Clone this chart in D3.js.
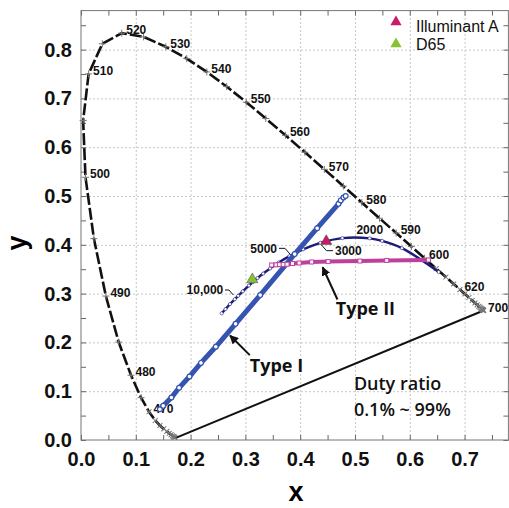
<!DOCTYPE html>
<html>
<head>
<meta charset="utf-8">
<script src="https://cdn.jsdelivr.net/npm/d3@7"></script>
<style>
  body { margin: 0; background: #fff; }
  svg { display: block; }
  .axis .tick text { font-family: "Liberation Sans", Arial, sans-serif; font-weight: bold; font-size: 20px; fill: #111; }
  .axis path.domain { display: none; }
  .axis .tick line { stroke: #666; }
  .grid .tick line { stroke: #c8c8c8; stroke-dasharray: 2,2; }
  .grid path.domain { display: none; }
  .grid .tick text { display: none; }
</style>
</head>
<body>
<div id="chart"></div>
<script>
// CIE 1931 spectral locus (5 nm steps)
const locusNm = [380,385,390,395,400,405,410,415,420,425,430,435,440,445,450,455,460,465,470,475,
  480,485,490,495,500,505,510,515,520,525,530,535,540,545,550,555,560,565,570,575,
  580,585,590,595,600,605,610,615,620,625,630,635,640,645,650,655,660,665,670,675,
  680,685,690,695,700];
const locusX = [0.1741,0.1740,0.1738,0.1736,0.1733,0.1730,0.1726,0.1721,0.1714,0.1703,0.1689,0.1669,0.1644,0.1611,0.1566,0.1510,0.1440,0.1355,0.1241,0.1096,
  0.0913,0.0687,0.0454,0.0235,0.0082,0.0039,0.0139,0.0389,0.0743,0.1142,0.1547,0.1929,0.2296,0.2658,0.3016,0.3373,0.3731,0.4087,0.4441,0.4788,
  0.5125,0.5448,0.5752,0.6029,0.6270,0.6482,0.6658,0.6801,0.6915,0.7006,0.7079,0.7140,0.7190,0.7230,0.7260,0.7283,0.7300,0.7311,0.7320,0.7327,
  0.7334,0.7340,0.7344,0.7346,0.7347];
const locusY = [0.0050,0.0050,0.0049,0.0049,0.0048,0.0048,0.0048,0.0048,0.0051,0.0058,0.0069,0.0086,0.0109,0.0138,0.0177,0.0227,0.0297,0.0399,0.0578,0.0868,
  0.1327,0.2007,0.2950,0.4127,0.5384,0.6548,0.7502,0.8120,0.8338,0.8262,0.8059,0.7816,0.7543,0.7243,0.6923,0.6589,0.6245,0.5896,0.5547,0.5202,
  0.4866,0.4544,0.4242,0.3965,0.3725,0.3514,0.3340,0.3197,0.3083,0.2993,0.2920,0.2859,0.2809,0.2770,0.2740,0.2717,0.2700,0.2689,0.2680,0.2673,
  0.2666,0.2660,0.2656,0.2654,0.2653];
const locusLabels = [470,480,490,500,510,520,530,540,550,560,570,580,590,600,620,700];

// Planckian locus
const planckK = [1000,1500,1800,2000,2500,3000,3500,4000,4500,5000,5500,6000,6500,7000,8000,9000,10000,12000,15000,20000];
const planckX = [0.6528,0.5857,0.5496,0.5267,0.4770,0.4369,0.4053,0.3805,0.3608,0.3451,0.3325,0.3221,0.3135,0.3064,0.2952,0.2869,0.2807,0.2719,0.2637,0.2567];
const planckY = [0.3444,0.3931,0.4081,0.4133,0.4137,0.4041,0.3907,0.3768,0.3636,0.3516,0.3411,0.3318,0.3237,0.3166,0.3048,0.2956,0.2884,0.2785,0.2682,0.2596];

// measured chromaticity, duty ratio 0.1% ~ 99%
const type1X = [0.144,0.150,0.165,0.179,0.198,0.219,0.246,0.282,0.327,0.390,0.431,0.470,0.474,0.479,0.483];
const type1Y = [0.063,0.070,0.087,0.107,0.130,0.158,0.191,0.238,0.297,0.381,0.434,0.484,0.491,0.497,0.500];
const type2X = [0.348,0.356,0.362,0.369,0.376,0.386,0.398,0.421,0.451,0.509,0.558,0.634];
const type2Y = [0.3586,0.3590,0.3594,0.3598,0.3602,0.3616,0.3628,0.3648,0.3656,0.3668,0.3680,0.3689];

const illumNames = ["Illuminant A", "D65"];
const illumX = [0.4476, 0.3127];
const illumY = [0.4074, 0.3290];
const illumColors = ["#cc1a66", "#86c232"];

const xTicks = [0, 0.1, 0.2, 0.3, 0.4, 0.5, 0.6, 0.7];
const yTicks = [0, 0.1, 0.2, 0.3, 0.4, 0.5, 0.6, 0.7, 0.8];

const width = 509, height = 508;
const margin = { top: 10.6, right: 0.6, bottom: 68, left: 81 };
const W = width - margin.left - margin.right;
const H = height - margin.top - margin.bottom;

const svg = d3.select("#chart").append("svg")
    .attr("width", width)
    .attr("height", height);

svg.append("defs").append("marker")
    .attr("id", "arrow")
    .attr("viewBox", "0 0 10 10")
    .attr("refX", 9).attr("refY", 5)
    .attr("markerWidth", 9).attr("markerHeight", 9)
    .attr("markerUnits", "userSpaceOnUse")
    .attr("orient", "auto")
    .append("path")
    .attr("d", "M0,0L10,5L0,10z")
    .attr("fill", "#111");

const g = svg.append("g").attr("transform", `translate(${margin.left},${margin.top})`);

const x = d3.scaleLinear().domain([0, 0.78]).range([0, W]);
const y = d3.scaleLinear().domain([0, 0.88]).range([H, 0]);

// grid
g.append("g").attr("class", "grid").attr("transform", `translate(0,${H})`)
    .call(d3.axisBottom(x).tickValues(xTicks.slice(1)).tickSize(-H));
g.append("g").attr("class", "grid")
    .call(d3.axisLeft(y).tickValues(yTicks.slice(1)).tickSize(-W));

// axes, ticks inward on all four sides
const fmt = d3.format(".1f");
const minorX = d3.range(0.05, 0.78, 0.1);
const minorY = d3.range(0.05, 0.88, 0.1);
g.append("g").attr("class", "axis").attr("transform", `translate(0,${H})`)
    .call(d3.axisBottom(x).tickValues(xTicks).tickSize(-5).tickPadding(12).tickFormat(fmt));
g.append("g").attr("class", "axis").attr("transform", `translate(0,${H})`)
    .call(d3.axisBottom(x).tickValues(minorX).tickSize(-5).tickFormat(""));
g.append("g").attr("class", "axis")
    .call(d3.axisLeft(y).tickValues(yTicks).tickSize(-5).tickPadding(9).tickFormat(fmt));
g.append("g").attr("class", "axis")
    .call(d3.axisLeft(y).tickValues(minorY).tickSize(-5).tickFormat(""));
g.append("g").attr("class", "axis")
    .call(d3.axisTop(x).tickValues(xTicks.concat(minorX)).tickSize(-5).tickFormat(""));
g.append("g").attr("class", "axis").attr("transform", `translate(${W},0)`)
    .call(d3.axisRight(y).tickValues(yTicks.concat(minorY)).tickSize(-5).tickFormat(""));

g.append("rect")
    .attr("width", W).attr("height", H)
    .attr("fill", "none").attr("stroke", "#777").attr("stroke-width", 1);

// axis titles
svg.append("text")
    .attr("x", 296).attr("y", 501)
    .attr("text-anchor", "middle")
    .style("font", "bold 27px 'Liberation Sans', Arial, sans-serif")
    .text("x");
svg.append("text")
    .attr("transform", "translate(26,243) rotate(-90)")
    .attr("text-anchor", "middle")
    .style("font", "bold 27px 'Liberation Sans', Arial, sans-serif")
    .text("y");

// spectral locus
const locus = locusNm.map((nm, i) => ({ nm, x: locusX[i], y: locusY[i] }));
const line = d3.line().x(d => x(d.x)).y(d => y(d.y));

g.append("path")
    .datum([locus[0], locus[locus.length - 1]])
    .attr("d", line)
    .attr("fill", "none").attr("stroke", "#111").attr("stroke-width", 2);

g.append("path")
    .datum(locus)
    .attr("d", line)
    .attr("fill", "none").attr("stroke", "#111").attr("stroke-width", 2.6)
    .attr("stroke-dasharray", "12,3");

g.selectAll(".lmark")
    .data(locus.filter(d => d.nm >= 420))
    .join("path")
    .attr("class", "lmark")
    .attr("transform", d => `translate(${x(d.x)},${y(d.y)}) rotate(${(d.nm < 475 || d.nm > 600) ? 45 : 0})`)
    .attr("d", "M-3.5,0H3.5M0,-3.5V3.5")
    .attr("stroke", "#777").attr("stroke-width", 1);

g.selectAll(".llabel")
    .data(locus.filter(d => locusLabels.includes(d.nm)))
    .join("text")
    .attr("class", "llabel")
    .attr("x", d => x(d.x) + 4.5)
    .attr("y", d => y(d.y) - 3)
    .attr("dy", "0.35em")
    .style("font", "bold 12px 'Liberation Sans', Arial, sans-serif")
    .attr("fill", "#111")
    .text(d => d.nm);

// Planckian locus
const planck = planckK.map((k, i) => ({ k, x: planckX[i], y: planckY[i] }));
g.append("path")
    .datum(planck)
    .attr("d", d3.line().x(d => x(d.x)).y(d => y(d.y)).curve(d3.curveCatmullRom))
    .attr("fill", "none").attr("stroke", "#1c1c7a").attr("stroke-width", 2.4);
g.selectAll(".pmark")
    .data(planck)
    .join("circle")
    .attr("class", "pmark")
    .attr("cx", d => x(d.x)).attr("cy", d => y(d.y))
    .attr("r", 1.6)
    .attr("fill", "#fff").attr("stroke", "#1c1c7a").attr("stroke-width", 0.6);

// CCT labels with leaders
const labelFont = "bold 12px 'Liberation Sans', Arial, sans-serif";
const leader = d3.line().x(d => x(d[0])).y(d => y(d[1]));
const cctLabels = [
  { t: "2000", at: [0.527, 0.422], anchor: "middle", lead: null },
  { t: "3000", at: [0.4635, 0.379], anchor: "start", lead: [[0.439, 0.3996], [0.448, 0.388], [0.460, 0.388]] },
  { t: "5000", at: [0.3577, 0.3836], anchor: "end", lead: [[0.3613, 0.3928], [0.3723, 0.3928], [0.3814, 0.3811]] },
  { t: "10,000", at: [0.2597, 0.2982], anchor: "end", lead: [[0.2628, 0.3074], [0.270, 0.3074], [0.278, 0.2971]] }
];
cctLabels.forEach(c => {
  g.append("text")
      .attr("x", x(c.at[0])).attr("y", y(c.at[1]))
      .attr("text-anchor", c.anchor)
      .style("font", labelFont)
      .attr("fill", "#111")
      .text(c.t);
  if (c.lead) {
    g.append("path").attr("d", leader(c.lead))
        .attr("fill", "none").attr("stroke", "#111").attr("stroke-width", 1);
  }
});

// Type I
const t1 = type1X.map((v, i) => ({ x: v, y: type1Y[i] }));
g.append("path").datum(t1).attr("d", line)
    .attr("fill", "none").attr("stroke", "#3553b0").attr("stroke-width", 5);
g.selectAll(".t1").data(t1).join("circle")
    .attr("class", "t1")
    .attr("cx", d => x(d.x)).attr("cy", d => y(d.y))
    .attr("r", 2.4)
    .attr("fill", "#fff").attr("stroke", "#3553b0").attr("stroke-width", 1.2);

// Type II
const t2 = type2X.map((v, i) => ({ x: v, y: type2Y[i] }));
g.append("path").datum(t2).attr("d", line)
    .attr("fill", "none").attr("stroke", "#bf3f9c").attr("stroke-width", 4);
g.selectAll(".t2").data(t2).join("rect")
    .attr("class", "t2")
    .attr("x", d => x(d.x) - 2).attr("y", d => y(d.y) - 2)
    .attr("width", 4).attr("height", 4)
    .attr("fill", "#fff").attr("stroke", "#bf3f9c").attr("stroke-width", 1);

// illuminants
const tri = d3.symbol().type(d3.symbolTriangle).size(55);
g.selectAll(".illum").data(illumNames).join("path")
    .attr("class", "illum")
    .attr("transform", (d, i) => `translate(${x(illumX[i])},${y(illumY[i])})`)
    .attr("d", tri)
    .attr("fill", (d, i) => illumColors[i])
    .attr("stroke", "#444").attr("stroke-width", 0.5);

// legend
const legend = svg.append("g").attr("transform", "translate(396,0)");
illumNames.forEach((name, i) => {
  legend.append("path")
      .attr("transform", `translate(0,${22 + i * 22})`)
      .attr("d", tri)
      .attr("fill", illumColors[i]);
  legend.append("text")
      .attr("x", 20).attr("y", 32 + i * 18)
      .style("font", "16px 'Liberation Sans', Arial, sans-serif")
      .attr("fill", "#111")
      .text(name);
});

// annotations
const noteFont = "bold 18px 'Open Sans', sans-serif";
g.append("text").attr("x", x(0.308)).attr("y", y(0.139))
    .style("font", noteFont).attr("fill", "#111").text("Type I");
g.append("line")
    .attr("x1", x(0.308)).attr("y1", y(0.174))
    .attr("x2", x(0.272)).attr("y2", y(0.214))
    .attr("stroke", "#111").attr("stroke-width", 2)
    .attr("marker-end", "url(#arrow)");
g.append("text").attr("x", x(0.465)).attr("y", y(0.256))
    .style("font", noteFont).attr("fill", "#111").text("Type II");
g.append("line")
    .attr("x1", x(0.468)).attr("y1", y(0.288))
    .attr("x2", x(0.441)).attr("y2", y(0.354))
    .attr("stroke", "#111").attr("stroke-width", 2)
    .attr("marker-end", "url(#arrow)");

const dutyFont = "600 18px 'Open Sans', sans-serif";
g.append("text").attr("x", x(0.498)).attr("y", y(0.102))
    .style("font", dutyFont).attr("fill", "#111").text("Duty ratio");
g.append("text").attr("x", x(0.498)).attr("y", y(0.049))
    .style("font", dutyFont).attr("fill", "#111").text("0.1% ~ 99%");
</script>
</body>
</html>
